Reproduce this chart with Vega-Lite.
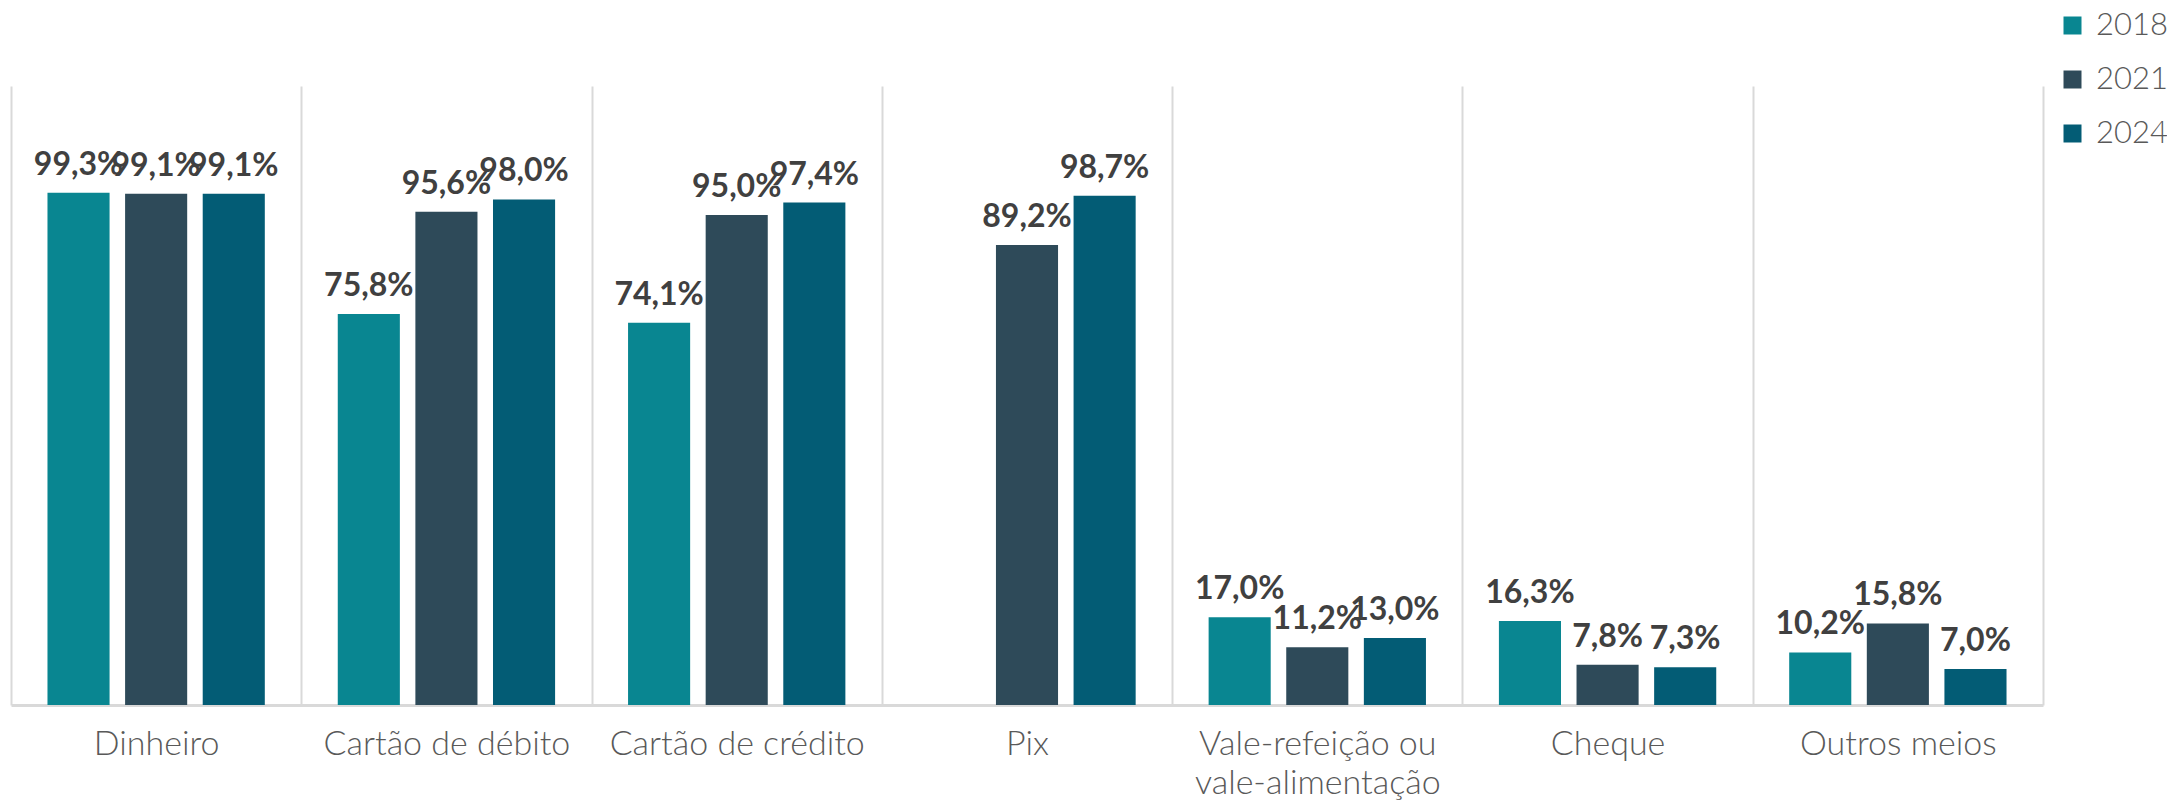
{
  "$schema": "https://vega.github.io/schema/vega-lite/v6.json",
  "width": 2032,
  "height": 619,
  "autosize": {"type": "none"},
  "padding": {"left": 11, "top": 86, "right": 124, "bottom": 97},
  "background": "white",
  "config": {
    "view": {"stroke": null},
    "locale": {"number": {"decimal": ",", "thousands": ".", "grouping": [3], "currency": ["R$", ""]}}
  },
  "data": {
    "values": [
      {"meio": "Dinheiro", "ano": "2018", "valor": 0.993},
      {"meio": "Dinheiro", "ano": "2021", "valor": 0.991},
      {"meio": "Dinheiro", "ano": "2024", "valor": 0.991},
      {"meio": "Cartão de débito", "ano": "2018", "valor": 0.758},
      {"meio": "Cartão de débito", "ano": "2021", "valor": 0.956},
      {"meio": "Cartão de débito", "ano": "2024", "valor": 0.980},
      {"meio": "Cartão de crédito", "ano": "2018", "valor": 0.741},
      {"meio": "Cartão de crédito", "ano": "2021", "valor": 0.950},
      {"meio": "Cartão de crédito", "ano": "2024", "valor": 0.974},
      {"meio": "Pix", "ano": "2021", "valor": 0.892},
      {"meio": "Pix", "ano": "2024", "valor": 0.987},
      {"meio": "Vale-refeição ou|vale-alimentação", "ano": "2018", "valor": 0.170},
      {"meio": "Vale-refeição ou|vale-alimentação", "ano": "2021", "valor": 0.112},
      {"meio": "Vale-refeição ou|vale-alimentação", "ano": "2024", "valor": 0.130},
      {"meio": "Cheque", "ano": "2018", "valor": 0.163},
      {"meio": "Cheque", "ano": "2021", "valor": 0.078},
      {"meio": "Cheque", "ano": "2024", "valor": 0.073},
      {"meio": "Outros meios", "ano": "2018", "valor": 0.102},
      {"meio": "Outros meios", "ano": "2021", "valor": 0.158},
      {"meio": "Outros meios", "ano": "2024", "valor": 0.070}
    ]
  },
  "encoding": {
    "x": {
      "field": "meio",
      "type": "nominal",
      "sort": ["Dinheiro", "Cartão de débito", "Cartão de crédito", "Pix", "Vale-refeição ou|vale-alimentação", "Cheque", "Outros meios"],
      "scale": {"paddingInner": 0, "paddingOuter": 0},
      "axis": {
        "title": null,
        "labelAngle": 0,
        "labelExpr": "split(datum.label, '|')",
        "labelFont": "Lato",
        "labelFontWeight": 300,
        "labelFontSize": 34,
        "labelColor": "#595959",
        "labelPadding": 22,
        "labelLineHeight": 39,
        "labelBaseline": "top",
        "labelLimit": 0,
        "labelOverlap": false,
        "ticks": false,
        "grid": true,
        "tickBand": "extent",
        "gridColor": "#d9d9d9",
        "gridWidth": 2,
        "domainColor": "#d9d9d9",
        "domainWidth": 3
      }
    },
    "xOffset": {
      "field": "ano",
      "type": "nominal",
      "scale": {"domain": ["2018", "2021", "2024"], "paddingInner": 0.2, "paddingOuter": 0.47}
    },
    "y": {
      "field": "valor",
      "type": "quantitative",
      "scale": {"domain": [0, 1.2], "nice": false},
      "axis": null
    }
  },
  "layer": [
    {
      "mark": {"type": "bar"},
      "encoding": {
        "color": {
          "field": "ano",
          "type": "nominal",
          "scale": {"domain": ["2018", "2021", "2024"], "range": ["#098691", "#2E4A59", "#035C75"]},
          "legend": {
            "title": null,
            "orient": "none",
            "legendX": 2046,
            "legendY": -76,
            "symbolType": "square",
            "symbolSize": 324,
            "symbolStrokeWidth": 0,
            "labelFont": "Lato",
            "labelFontWeight": 300,
            "labelFontSize": 31,
            "labelColor": "#595959",
            "labelOffset": 8,
            "labelLimit": 0,
            "rowPadding": 22,
            "padding": 0
          }
        }
      }
    },
    {
      "mark": {"type": "text", "font": "Lato", "fontWeight": "bold", "fontSize": 32, "color": "#404040", "baseline": "alphabetic", "dy": -18},
      "encoding": {
        "text": {"field": "valor", "type": "quantitative", "format": ".1%"}
      }
    }
  ]
}
